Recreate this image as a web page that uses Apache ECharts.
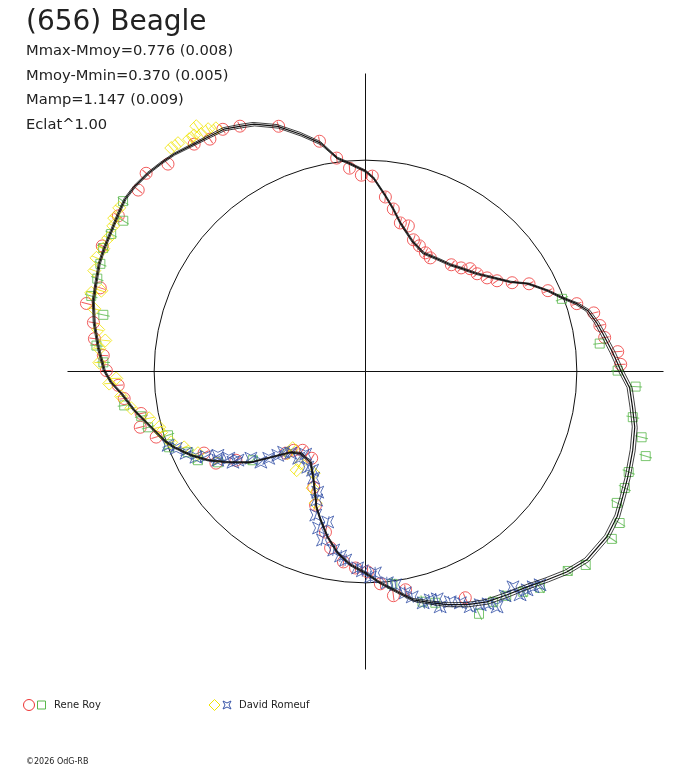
<!DOCTYPE html>
<html>
<head>
<meta charset="utf-8">
<title>(656) Beagle</title>
<script src="https://cdn.jsdelivr.net/npm/echarts@6/dist/echarts.min.js"></script>
<style>
    html, body { margin: 0; padding: 0; background: #fff; }
    #main { width: 688px; height: 768px; }
</style>
</head>
<body>
<div id="main"></div>
<script>
// fitted lightcurve: [angle in degrees, radius] (circle = 1)
var fitCurve = [
    [0, 1.210], [4.4, 1.173], [9.1, 1.137], [11.9, 1.118], [15.3, 1.091], [17.8, 1.050], [20.6, 0.993],
    [23.9, 0.944], [28.4, 0.874], [31.8, 0.805], [35.2, 0.762], [41.2, 0.702], [47.6, 0.664], [51.5, 0.645],
    [57.5, 0.632], [64.0, 0.624], [70.3, 0.656], [76.8, 0.722], [80.3, 0.780], [83.5, 0.836], [87.6, 0.916],
    [90, 0.948], [94.6, 0.989], [97.5, 1.018],
    [101.1, 1.101], [105.3, 1.164], [109.7, 1.232], [114.3, 1.284], [116.9, 1.302], [120.3, 1.328],
    [123.5, 1.335], [127.0, 1.347], [131.4, 1.370],
    [134.4, 1.381], [137.6, 1.392], [141.3, 1.400], [144.4, 1.400], [147.5, 1.387], [151.1, 1.374],
    [154.7, 1.367], [158.0, 1.359], [161.4, 1.344], [165.4, 1.331], [170.0, 1.303], [174.9, 1.269],
    [179.8, 1.236], [182.5, 1.204], [185.1, 1.160], [189.5, 1.110], [194.6, 1.048], [198.9, 1.007],
    [201.6, 0.974], [205.6, 0.916], [209.4, 0.855], [213.4, 0.780], [218.4, 0.692], [222.2, 0.604],
    [227.2, 0.521], [231.6, 0.494], [238.9, 0.502], [244.5, 0.570], [250.2, 0.684], [253.2, 0.734],
    [257.1, 0.803], [261.3, 0.869], [265.6, 0.918], [270, 0.953], [274.0, 1.003],
    [278.2, 1.053], [281.8, 1.104], [285.7, 1.136], [289.3, 1.169], [293.6, 1.204],
    [297.8, 1.232], [302.4, 1.251], [306.9, 1.274], [311.0, 1.307], [315.1, 1.344], [319.6, 1.375],
    [325.6, 1.384], [330.1, 1.374], [334.0, 1.354], [338.0, 1.338], [343.6, 1.318], [348.3, 1.301],
    [352.3, 1.275], [356.5, 1.252], [360, 1.210]
];
// half width of the fit uncertainty, one per fit point
var fitErr = [
    0.012, 0.012, 0.011, 0.010, 0.009, 0.008, 0.006,
    0.005, 0.005, 0.005, 0.005, 0.005, 0.005, 0.005, 0.005, 0.005, 0.005, 0.005, 0.005, 0.005, 0.005,
    0.005, 0.005, 0.005,
    0.008, 0.009, 0.009, 0.009, 0.009, 0.008, 0.007, 0.006, 0.005,
    0.005, 0.005, 0.005, 0.005, 0.005, 0.005, 0.005, 0.005, 0.005, 0.005, 0.005, 0.005, 0.005, 0.005,
    0.005, 0.005, 0.005, 0.005, 0.005, 0.005, 0.005, 0.005, 0.005, 0.005, 0.005, 0.005, 0.005, 0.005,
    0.005, 0.005, 0.005, 0.005, 0.005, 0.005, 0.005,
    0.006, 0.007, 0.008, 0.010, 0.011,
    0.012, 0.012, 0.012, 0.012, 0.012, 0.012, 0.012, 0.012, 0.012, 0.012, 0.012, 0.012, 0.012, 0.012,
    0.012
];

// observations: [angle, radius]
var reneCircles = [
    [94.5, 0.965], [91.2, 0.929], [88.0, 0.925], [83.5, 0.831], [80.3, 0.780], [76.8, 0.722], [73.6, 0.718],
    [70.0, 0.663], [66.8, 0.647], [63.2, 0.629], [60.3, 0.619], [51.2, 0.648], [47.3, 0.667], [44.5, 0.694],
    [41.2, 0.702], [37.6, 0.726], [34.6, 0.756], [31.2, 0.811], [28.2, 0.878], [23.9, 0.944], [17.8, 1.050],
    [14.4, 1.115], [11.1, 1.130], [8.1, 1.143], [4.5, 1.197], [1.6, 1.208],
    [97.7, 1.019], [101.3, 1.111], [109.5, 1.231], [117.1, 1.304], [120.5, 1.330], [123.8, 1.323],
    [127.0, 1.347], [133.6, 1.355], [137.9, 1.399], [141.4, 1.376], [144.5, 1.414], [147.8, 1.382],
    [154.5, 1.380], [162.5, 1.316], [166.3, 1.359],
    [169.8, 1.308], [173.1, 1.292], [176.5, 1.243], [179.8, 1.226], [183.2, 1.172], [186.4, 1.149],
    [190.6, 1.080], [193.9, 1.098], [197.4, 1.038], [206.8, 0.856], [211.5, 0.830], [214.4, 0.743],
    [227.7, 0.504], [231.4, 0.477], [238.2, 0.483], [225.7, 0.540], [245.9, 0.600], [249.5, 0.675],
    [256.0, 0.783], [258.8, 0.851], [263.4, 0.907], [267.1, 0.931], [270.6, 0.948], [274.0, 1.007],
    [277.1, 1.069], [280.4, 1.050], [293.8, 1.170]
];
var reneSquares = [
    [20.3, 0.991], [6.8, 1.116], [0.2, 1.193], [356.8, 1.280], [350.3, 1.283], [346.6, 1.343], [343.2, 1.385],
    [339.1, 1.333], [335.8, 1.345], [332.4, 1.342], [329.2, 1.400], [325.8, 1.409], [318.7, 1.387],
    [315.4, 1.344], [308.9, 1.315], [305.6, 1.282], [302.1, 1.253], [277.2, 1.013], [283.9, 1.122],
    [286.8, 1.143], [295.1, 1.266], [299.0, 1.246],
    [144.9, 1.402], [148.1, 1.350], [151.6, 1.368], [154.8, 1.372], [157.9, 1.354], [160.9, 1.343],
    [164.6, 1.346], [167.8, 1.269], [174.5, 1.279], [178.0, 1.241], [188.0, 1.153], [191.3, 1.082],
    [194.4, 1.062], [197.9, 0.982], [201.1, 0.996], [204.5, 0.922], [207.9, 0.897], [211.6, 0.820],
    [218.2, 0.679]
];
var davidDiamonds = [
    [123.0, 1.367], [124.7, 1.366], [127.2, 1.380], [129.4, 1.398], [131.0, 1.401], [133.2, 1.411],
    [136.0, 1.411], [137.8, 1.433], [140.7, 1.421], [143.7, 1.417], [146.4, 1.399], [148.6, 1.393],
    [152.6, 1.371], [154.9, 1.370], [157.1, 1.382], [159.6, 1.369], [164.0, 1.350], [167.0, 1.317],
    [171.1, 1.280], [175.1, 1.264], [178.1, 1.260], [182.7, 1.214], [181.6, 1.180], [188.9, 1.122],
    [192.2, 1.047], [195.1, 1.011], [200.0, 0.979], [202.7, 0.930], [206.0, 0.882], [226.4, 0.534],
    [234.8, 0.531], [243.0, 0.540], [245.6, 0.606], [249.3, 0.666], [121.6, 1.351], [126.0, 1.381],
    [126.8, 1.432], [124.6, 1.410], [130.5, 1.432], [150.0, 1.378], [163.0, 1.307], [173.2, 1.240],
    [185.8, 1.162], [196.6, 1.009], [226.5, 0.500], [235.1, 0.569]
];
var davidStars = [
    [200.5, 0.997], [202.1, 0.967], [204.5, 0.933], [206.8, 0.899], [209.6, 0.803], [211.0, 0.815],
    [214.8, 0.735], [220.9, 0.655], [223.7, 0.574], [227.5, 0.524], [232.4, 0.518], [238.9, 0.529],
    [244.1, 0.561], [248.4, 0.614], [250.9, 0.719], [253.3, 0.773], [255.9, 0.734], [259.9, 0.858],
    [264.0, 0.897], [267.7, 0.930], [271.4, 0.972], [272.8, 0.954], [275.9, 1.005], [281.7, 1.089],
    [284.0, 1.128], [287.5, 1.128], [287.6, 1.168], [292.3, 1.183], [294.0, 1.218], [296.2, 1.230],
    [299.2, 1.276], [304.4, 1.235], [304.7, 1.285], [307.9, 1.291], [309.3, 1.304], [217.1, 0.680],
    [214.4, 0.760], [278.0, 1.019], [290.2, 1.161], [255.7, 0.823], [262.3, 0.881], [269.1, 0.943],
    [280.2, 1.064], [285.8, 1.123], [297.8, 1.243], [301.9, 1.250], [306.5, 1.285], [241.8, 0.530],
    [234.1, 0.483], [224.6, 0.544], [221.9, 0.615], [208.0, 0.855], [212.4, 0.766], [249.2, 0.651]
];

var titleText = '(656) Beagle';
var infoLines = ['Mmax-Mmoy=0.776 (0.008)', 'Mmoy-Mmin=0.370 (0.005)', 'Mamp=1.147 (0.009)', 'Eclat^1.00'];
var observers = ['Rene Roy', 'David Romeuf'];
var creditText = '\u00a92026 OdG-RB';

var RED = '#ee3535', GREEN = '#5ab84c', YELLOW = '#f0e400', BLUE = '#3653a8';
var FONT = '"DejaVu Sans", sans-serif';

var circlePath = 'path://M0,-10A10,10,0,1,1,0,10A10,10,0,1,1,0,-10Z';
var squarePath = 'path://M-10,-10L10,-10L10,10L-10,10Z';
var diamondPath = 'path://M0,-10L10,0L0,10L-10,0Z';
var starPath = 'path://M-10,-10L0,-5L10,-10L5,0L10,10L0,5L-10,10L-5,0Z';
// radial error tick; the zero-length end pieces only widen the box
var tickPath = 'path://M0,-10L0,10M-10,0L-10,0M10,0L10,0';

function markerSeries(name, list, path, size, color) {
    return {
        name: name,
        type: 'scatter',
        coordinateSystem: 'polar',
        symbol: path,
        symbolSize: size,
        itemStyle: { color: 'transparent', borderColor: color, borderWidth: 1 },
        data: list.map(function(p) { return [p[1], p[0]]; }),
        z: 3
    };
}

function tickSeries(name, list, len, color) {
    return {
        name: name,
        type: 'scatter',
        coordinateSystem: 'polar',
        symbol: tickPath,
        symbolSize: len,
        itemStyle: { color: 'transparent', borderColor: color, borderWidth: 1 },
        data: list.map(function(p) {
            return { value: [p[1], p[0]], symbolRotate: p[0] - 90 };
        }),
        z: 3
    };
}

function curveSeries(data, width) {
    return {
        type: 'line',
        coordinateSystem: 'polar',
        symbol: 'none',
        smooth: false,
        lineStyle: { color: '#111', width: width },
        data: data,
        z: 5
    };
}

var fitMid = fitCurve.map(function(p) { return [p[1], p[0]]; });
var fitHi = fitCurve.map(function(p, i) { return [p[1] + fitErr[i], p[0]]; });
var fitLo = fitCurve.map(function(p, i) { return [p[1] - fitErr[i], p[0]]; });

var graphics = [{
    type: 'text', x: 26, y: 23,
    style: { text: titleText, font: 'normal 28px ' + FONT, fill: '#222', verticalAlign: 'middle' }
}];
for (var i = 0; i < infoLines.length; i++) {
    graphics.push({
        type: 'text', x: 26, y: 51 + i * 24.7,
        style: { text: infoLines[i], font: 'normal 14.7px ' + FONT, fill: '#222', verticalAlign: 'middle' }
    });
}
graphics.push(
    { type: 'circle', shape: { cx: 29, cy: 705, r: 5.5 }, style: { fill: 'none', stroke: RED, lineWidth: 1 } },
    { type: 'rect', shape: { x: 37.5, y: 701, width: 8, height: 8 }, style: { fill: 'none', stroke: GREEN, lineWidth: 1 } },
    { type: 'text', x: 54, y: 705, style: { text: observers[0], font: 'normal 10px ' + FONT, fill: '#222', verticalAlign: 'middle' } },
    { type: 'polygon', shape: { points: [[214.5, 699.5], [220, 705], [214.5, 710.5], [209, 705]] }, style: { fill: 'none', stroke: YELLOW, lineWidth: 1 } },
    { type: 'polygon', shape: { points: [[223, 701], [227, 703], [231, 701], [229, 705], [231, 709], [227, 707], [223, 709], [225, 705]] }, style: { fill: 'none', stroke: BLUE, lineWidth: 1 } },
    { type: 'text', x: 239, y: 705, style: { text: observers[1], font: 'normal 10px ' + FONT, fill: '#222', verticalAlign: 'middle' } },
    { type: 'text', x: 26, y: 762, style: { text: creditText, font: 'normal 8px ' + FONT, fill: '#222', verticalAlign: 'middle' } }
);

var option = {
    animation: false,
    backgroundColor: '#fff',
    polar: { center: [365.5, 371.5], radius: 298 },
    angleAxis: {
        type: 'value', min: 0, max: 360, interval: 90,
        startAngle: 0, clockwise: false,
        axisLine: { show: false }, axisTick: { show: false }, axisLabel: { show: false },
        splitLine: { show: true, lineStyle: { color: '#111', width: 1 } }
    },
    radiusAxis: {
        type: 'value', min: 0, max: 1.41, interval: 1,
        axisLine: { show: false }, axisTick: { show: false }, axisLabel: { show: false },
        splitLine: { show: true, lineStyle: { color: ['transparent', '#111', 'transparent'], width: 1 } }
    },
    graphic: graphics,
    series: [
        markerSeries(observers[0], reneCircles, circlePath, 12, RED),
        tickSeries(observers[0], reneCircles, 10, RED),
        markerSeries(observers[0], reneSquares, squarePath, 9, GREEN),
        tickSeries(observers[0], reneSquares, 13, GREEN),
        markerSeries(observers[1], davidDiamonds, diamondPath, 13, YELLOW),
        tickSeries(observers[1], davidDiamonds, 10, YELLOW),
        markerSeries(observers[1], davidStars, starPath, 12, BLUE),
        tickSeries(observers[1], davidStars, 12, BLUE),
        curveSeries(fitLo, 0.8),
        curveSeries(fitHi, 0.8),
        curveSeries(fitMid, 1.2)
    ]
};

var myChart = echarts.init(document.getElementById('main'));
myChart.setOption(option);
</script>
</body>
</html>
